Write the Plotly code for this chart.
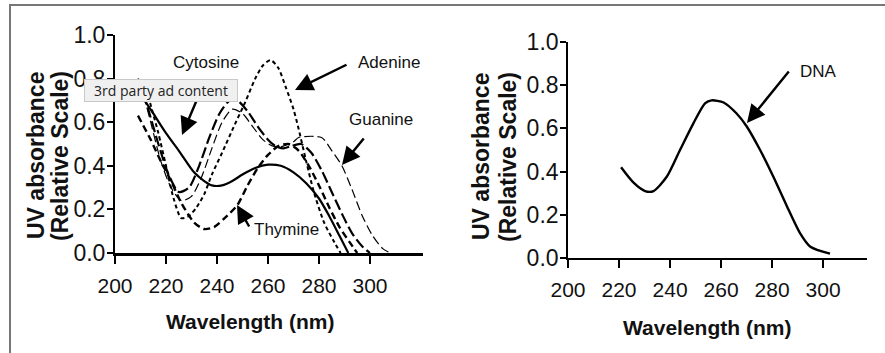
import plotly.graph_objects as go

W, H = 885, 353

# ---------------- data ----------------
cyt_nm  = [211, 215, 220, 225, 231, 235, 238, 242, 246, 250, 255, 260, 265, 270, 275, 280, 284, 288, 291.5]
cyt_abs = [0.71, 0.64, 0.55, 0.47, 0.37, 0.33, 0.31, 0.31, 0.33, 0.36, 0.39, 0.405, 0.40, 0.37, 0.32, 0.25, 0.17, 0.08, 0.0]

ade_nm  = [213, 217, 220, 223, 226, 229, 232, 235, 238, 242, 247, 251, 255, 258, 261, 264, 267, 270, 272, 275, 278, 282, 286, 288.5]
ade_abs = [0.72, 0.55, 0.40, 0.25, 0.16, 0.17, 0.21, 0.27, 0.36, 0.46, 0.59, 0.69, 0.80, 0.86, 0.885, 0.85, 0.76, 0.66, 0.57, 0.42, 0.28, 0.14, 0.05, 0.0]

thy_nm  = [209, 214, 218, 222, 226, 231, 235, 239, 243, 248, 252, 256, 260, 264, 268, 272, 276, 280, 284, 288, 292, 295]
thy_abs = [0.63, 0.52, 0.42, 0.33, 0.23, 0.14, 0.11, 0.12, 0.16, 0.22, 0.31, 0.39, 0.45, 0.49, 0.50, 0.47, 0.40, 0.31, 0.21, 0.12, 0.05, 0.0]

guaA_nm  = [209, 213, 217, 221, 225, 229, 233, 237, 241, 245, 248, 252, 256, 260, 263, 266, 269, 273, 277, 281, 285, 289, 293, 297, 300]
guaA_abs = [0.80, 0.66, 0.50, 0.36, 0.28, 0.30, 0.40, 0.53, 0.64, 0.70, 0.70, 0.65, 0.58, 0.52, 0.49, 0.48, 0.49, 0.50, 0.46, 0.38, 0.28, 0.18, 0.09, 0.03, 0.0]

guaB_nm  = [210, 214, 218, 222, 226, 230, 234, 238, 242, 246, 250, 254, 258, 262, 266, 270, 272, 281, 285, 289, 293, 297, 301, 305, 308]
guaB_abs = [0.78, 0.60, 0.42, 0.30, 0.24, 0.26, 0.35, 0.48, 0.60, 0.66, 0.64, 0.58, 0.52, 0.49, 0.49, 0.51, 0.53, 0.53, 0.47, 0.40, 0.29, 0.17, 0.08, 0.02, 0.0]

dna_nm  = [220.8, 225.6, 230.2, 233.5, 238.7, 243.9, 249, 253.7, 256.3, 261, 266, 270, 275.3, 280.5, 285.8, 291, 295, 302.7]
dna_abs = [0.42, 0.35, 0.31, 0.31, 0.376, 0.50, 0.62, 0.716, 0.73, 0.72, 0.67, 0.61, 0.50, 0.376, 0.24, 0.114, 0.052, 0.02]

x_ticks = [200, 220, 240, 260, 280, 300]
y_ticks = [0.0, 0.2, 0.4, 0.6, 0.8, 1.0]
y_title_1 = "UV absorbance"
y_title_2 = "(Relative Scale)"
x_title = "Wavelength (nm)"

# ---------------- helpers ----------------
def px(x):
    return x / W

def py(y):
    return 1 - y / H

FONT = "Arial, Liberation Sans, sans-serif"
INK = "#111111"

fig = go.Figure()

def add_line(x, y, dash, width, axis):
    fig.add_trace(go.Scatter(
        x=x, y=y, mode="lines", xaxis="x" + axis, yaxis="y" + axis,
        line=dict(color="black", width=width, dash=dash, shape="spline", smoothing=0.7),
        showlegend=False, hoverinfo="skip"))

add_line(guaB_nm, guaB_abs, "9px,4px", 1.2, "")
add_line(guaA_nm, guaA_abs, "11px,4px", 2.2, "")
add_line(thy_nm, thy_abs, "7px,4px", 2.4, "")
add_line(ade_nm, ade_abs, "4px,3px", 2.0, "")
add_line(cyt_nm, cyt_abs, "solid", 2.2, "")
add_line(dna_nm, dna_abs, "solid", 2.4, "2")

def xaxis(domain, rng, lw):
    return dict(domain=domain, range=rng, tickvals=x_ticks, ticks="outside", ticklen=8,
                tickwidth=2, tickcolor="black", showline=True, linecolor="black",
                linewidth=lw, showgrid=False, zeroline=False, automargin=False,
                tickfont=dict(family=FONT, size=21, color=INK), ticklabelstandoff=4)

def yaxis(domain, anchor, lw):
    return dict(domain=domain, range=[0, 1.0], tickvals=y_ticks, tickformat=".1f",
                ticks="outside", ticklen=6, tickwidth=2, tickcolor="black",
                showline=True, linecolor="black", linewidth=lw, showgrid=False,
                zeroline=False, anchor=anchor, automargin=False, ticklabelstandoff=-3,
                tickfont=dict(family=FONT, size=23, color=INK))

fig.update_layout(
    template="none",
    width=W, height=H, margin=dict(l=0, r=0, t=0, b=0, pad=0), autosize=False,
    paper_bgcolor="white", plot_bgcolor="white",
    xaxis=dict(xaxis([px(115), px(423)], [200, 320.8], 3), anchor="y"),
    yaxis=yaxis([py(253), py(35)], "x", 2),
    xaxis2=dict(xaxis([px(568), px(867)], [200, 317.2], 2), anchor="y2"),
    yaxis2=yaxis([py(258), py(42)], "x2", 1.6),
)

ann = []

def text(x, y, s, size=16, bold=False, angle=0):
    ann.append(dict(x=px(x), y=py(y), xref="paper", yref="paper", text=("<b>%s</b>" % s) if bold else s,
                    showarrow=False, xanchor="center", yanchor="middle", textangle=angle,
                    font=dict(family=FONT, size=size, color=INK)))

def arrow(tail, head):
    ann.append(dict(x=px(head[0]), y=py(head[1]), xref="paper", yref="paper",
                    ax=tail[0] - head[0], ay=tail[1] - head[1], axref="pixel", ayref="pixel",
                    text="", showarrow=True, arrowhead=2, arrowsize=1.5, arrowwidth=2.4,
                    arrowcolor="black", standoff=0, startstandoff=0))

# axis titles
text(36, 156, y_title_1, 23, True, -90)
text(60, 156, y_title_2, 23, True, -90)
text(250, 321, x_title, 21, True)
text(481, 157, y_title_1, 23, True, -90)
text(508, 157, y_title_2, 23, True, -90)
text(707, 327, x_title, 21, True)

# curve labels
text(206, 63, "Cytosine", 17)
text(389, 63, "Adenine", 17)
text(381, 119, "Guanine", 17)
text(286, 230, "Thymine", 17)
text(818, 71, "DNA", 17)

arrow((201, 90), (182, 135))
arrow((348, 64), (295, 90))
arrow((365, 137), (342, 165))
arrow((250, 228), (237, 205))
arrow((790, 70), (747, 123))

# overlay box drawn on top of everything else
ann.append(dict(x=px(84), y=py(79), xref="paper", yref="paper", xanchor="left", yanchor="top",
                text="3rd party ad content", showarrow=False, align="center",
                width=152, height=21, borderpad=0, borderwidth=1,
                bgcolor="#f0f0f0", bordercolor="#c8c8c8",
                font=dict(family="Open Sans, sans-serif", size=14, color="#222222")))

fig.update_layout(annotations=ann)

# outer frame (left and top edges)
fig.update_layout(shapes=[
    dict(type="line", xref="paper", yref="paper", x0=px(10), x1=px(10), y0=0, y1=py(4.5),
         line=dict(color="#777777", width=2)),
    dict(type="line", xref="paper", yref="paper", x0=px(9), x1=1, y0=py(5), y1=py(5),
         line=dict(color="#777777", width=2)),
])

fig.write_html("out.html")
